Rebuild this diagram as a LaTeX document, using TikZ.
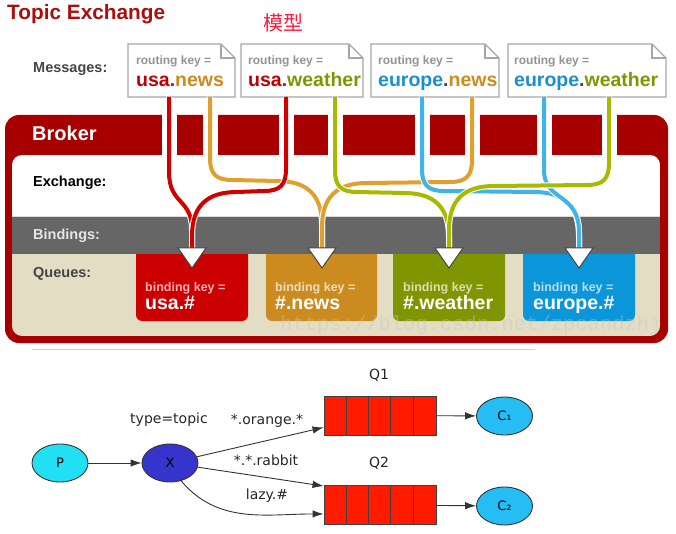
\documentclass[tikz,border=0pt]{standalone}
\usepackage{fontspec}
\setmainfont{Liberation Sans}
\newfontfamily\dejavu{DejaVu Sans}
\newfontfamily\cjk{Noto Sans CJK SC}
\newfontfamily\wmfont{Liberation Mono}
\usetikzlibrary{arrows.meta,shapes.geometric}
\definecolor{brokerred}{HTML}{A80000}
\definecolor{titlered}{HTML}{A8100F}
\definecolor{usared}{HTML}{C00000}
\definecolor{newsor}{HTML}{CC8B1C}
\definecolor{weatherol}{HTML}{7A9800}
\definecolor{europebl}{HTML}{1A8FD0}
\definecolor{dotgray}{HTML}{444444}
\definecolor{lred}{HTML}{D00000}
\definecolor{lorange}{HTML}{E0A030}
\definecolor{lolive}{HTML}{A8BA00}
\definecolor{lblue}{HTML}{40B4E6}
\definecolor{qred}{HTML}{CC0000}
\definecolor{qorange}{HTML}{CB8B1E}
\definecolor{qolive}{HTML}{809600}
\definecolor{qblue}{HTML}{0A96D8}
\definecolor{bandgray}{HTML}{666666}
\definecolor{beige}{HTML}{E3DDC3}
\definecolor{pcyan}{HTML}{22E0F4}
\definecolor{xblue}{HTML}{3535CC}
\definecolor{cblue}{HTML}{26BDF5}
\definecolor{qqred}{HTML}{FF1A00}
\definecolor{cjkred}{HTML}{FF1A40}
\tikzset{
  lbl/.style={anchor=base west, inner sep=0pt, font=\bfseries\fontsize{14.5}{16}\selectfont},
  rkey/.style={anchor=base west, inner sep=0pt, text=gray!85!white, font=\bfseries\fontsize{12}{14}\selectfont},
  mkey/.style={anchor=base west, inner sep=0pt, font=\bfseries\fontsize{19.5}{22}\selectfont},
  bkey/.style={anchor=base west, inner sep=0pt, text=white, text opacity=0.7, font=\bfseries\fontsize{12.5}{14}\selectfont},
  qkey/.style={anchor=base west, inner sep=0pt, text=white, font=\bfseries\fontsize{19.5}{22}\selectfont},
  msgframe/.style={draw=gray!70, line width=1.2pt, fill=white},
  wire/.style={line width=4pt, preaction={draw=white, line width=6pt}},
  tri/.style={fill=white, draw=dotgray, line width=1pt, line join=miter},
  ell/.style={ellipse, draw=black!80, line width=0.9pt, minimum width=56pt, minimum height=38pt, inner sep=0pt, font=\dejavu\fontsize{13}{15}\selectfont},
  qq/.style={rectangle, draw=black!75, line width=0.9pt, fill=qqred, minimum width=112pt, minimum height=39pt, inner sep=0pt},
  elabel/.style={inner sep=0pt, text=black!85, font=\dejavu\fontsize{14}{16}\selectfont},
  arr/.style={draw=black!80, line width=0.9pt, -{Latex[length=11pt,width=7.5pt]}}
}
\newcommand\msgbox[2]{%
  \draw[msgframe] (#1,44) -- ({#2-14},44) -- (#2,58) -- (#2,97) -- (#1,97) -- cycle;
  \draw[draw=gray!70, line width=1.2pt] ({#2-14},44) -- ({#2-14},58) -- (#2,58);
}
% long connector: color, x0, x1, yh, sign
\newcommand\longwire[5]{%
  \draw[#1, wire] (#2,97) -- (#2,{#4-22}) .. controls (#2,{#4-6}) and ({#2+#5*6},#4) .. ({#2+#5*22},#4)
    -- ({#3-#5*45},{#4+1}) .. controls ({#3-#5*15},{#4+1}) and (#3,{#4+15}) .. (#3,{#4+45}) -- (#3,248);
}
\begin{document}
\begin{tikzpicture}[x=1pt,y=-1pt]
\useasboundingbox (0,0) rectangle (676,534);
% title
\node[anchor=base west, inner sep=0pt, text=titlered, font=\bfseries\fontsize{20.8}{24}\selectfont] (title) at (7,20) {Topic Exchange};
\node[inner sep=0pt, text=cjkred, font=\cjk\fontsize{20}{24}\selectfont] (model) at (283.5,23) {模型};
\node[lbl, text=dotgray] (msglbl) at (33,73) {Messages:};
% broker frame
\fill[brokerred, rounded corners=14] (5,115) rectangle (668,343);
\foreach \a/\b in {162/177,203/218,279/294,328/343,415/430,465/480,537/552,602/617}
  \fill[white] (\a,114) rectangle (\b,156);
\begin{scope}
  \clip[rounded corners=10] (12,155) rectangle (660,336);
  \fill[white] (12,155) rectangle (660,217);
  \fill[beige] (12,217) rectangle (660,336);
  \fill[qred, rounded corners=6] (136,240) rectangle (248,321);
  \fill[qorange, rounded corners=6] (266,240) rectangle (377,321);
  \fill[qolive, rounded corners=6] (393,240) rectangle (505,321);
  \fill[qblue, rounded corners=6] (523,240) rectangle (635,321);
  \fill[bandgray] (12,217) rectangle (660,254);
  \draw[gray!30, line width=1pt] (12,217) -- (660,217);
\end{scope}
\node[anchor=base west, inner sep=0pt, text=white, font=\bfseries\fontsize{20}{24}\selectfont] (broker) at (32,141) {Broker};
\node[lbl, text=black] (exlbl) at (33,187) {Exchange:};
\node[lbl, text=gray!20] (bdlbl) at (33,240) {Bindings:};
\node[lbl, text=dotgray] (qlbl) at (33,277) {Queues:};
% queue texts
\node[bkey] (b1) at (145,291) {binding key =};
\node[qkey] (k1) at (145,309) {usa.\#};
\node[bkey] (b2) at (275,291) {binding key =};
\node[qkey] (k2) at (275,309) {\#.news};
\node[bkey] (b3) at (403,291) {binding key =};
\node[qkey] (k3) at (403,309) {\#.weather};
\node[bkey] (b4) at (533,291) {binding key =};
\node[qkey] (k4) at (533,309) {europe.\#};
% message boxes
\msgbox{128}{235}
\msgbox{241}{363}
\msgbox{371}{499}
\msgbox{508}{666}
\node[rkey] (r1) at (136,65) {routing key =};
\node[mkey] (m1) at (136,87) {\textcolor{usared}{usa}\textcolor{dotgray}{.}\textcolor{newsor}{news}};
\node[rkey] (r2) at (248,65) {routing key =};
\node[mkey] (m2) at (248,87) {\textcolor{usared}{usa}\textcolor{dotgray}{.}\textcolor{weatherol}{weather}};
\node[rkey] (r3) at (378,65) {routing key =};
\node[mkey] (m3) at (378,87) {\textcolor{europebl}{europe}\textcolor{dotgray}{.}\textcolor{newsor}{news}};
\node[rkey] (r4) at (514,65) {routing key =};
\node[mkey] (m4) at (514,87) {\textcolor{europebl}{europe}\textcolor{dotgray}{.}\textcolor{weatherol}{weather}};
% connector ends
\coordinate (t1) at (192,248);
\coordinate (t2) at (322,248);
\coordinate (t3) at (449,248);
\coordinate (t4) at (579,248);
% wires
\longwire{lorange}{210}{322}{180}{1}
\longwire{lorange}{472}{322}{182}{-1}
\draw[lred, wire] (169,97) -- (169,172) .. controls (169,205) and (192,198) .. (192,230) -- (t1);
\longwire{lred}{286}{192}{191}{-1}
\longwire{lblue}{422}{579}{191}{1}
\draw[lblue, wire] (544,97) -- (544,170) .. controls (544,202) and (579,192) .. (579,232) -- (t4);
\longwire{lolive}{335}{449}{192}{1}
\longwire{lolive}{609}{449}{185}{-1}
% triangles
\foreach \t in {t1,t2,t3,t4}
  \draw[tri] ([xshift=-14pt]\t) -- ([xshift=14pt]\t) -- ([yshift=-20pt]\t) -- cycle;
% watermark
\node[anchor=base west, inner sep=0pt, text=gray!45, text opacity=0.4, font=\wmfont\fontsize{20.5}{24}\selectfont] (wm) at (280,330) {https://blog.csdn.net/zpcandzhj};
% separator
\draw[gray!35, line width=0.8pt] (32,349) -- (535,349);
% bottom diagram
\node[ell, fill=pcyan] (P) at (60,463) {P};
\node[ell, fill=xblue] (X) at (170,463) {X};
\node[qq] (Q1) at (380,415.5) {};
\node[qq] (Q2) at (380,505) {};
\foreach \q in {Q1,Q2}
  \foreach \i in {1,...,4}
    \draw[black!75, line width=0.9pt] ([xshift=\i*22.4pt]\q.north west) -- ([xshift=\i*22.4pt]\q.south west);
\node[ell, fill=cblue] (C1) at (504.5,416) {C₁};
\node[ell, fill=cblue] (C2) at (504.5,506) {C₂};
\node[elabel] (tt) at (169,420) {type=topic};
\node[elabel] (lq1) at (379,375) {Q1};
\node[elabel] (lq2) at (379,463) {Q2};
\node[elabel] (lo) at (267,421) {*.orange.*};
\node[elabel] (lr) at (266,460) {*.*.rabbit};
\node[elabel] (ll) at (267,496) {lazy.\#};
\draw[arr] (P) -- (X);
\draw[arr] (X) -- ([yshift=8pt]Q1.south west);
\draw[arr] (X) -- ([yshift=-1pt]Q2.north west);
\draw[arr] (X.-58) to[out=-50,in=180] ([yshift=11pt]Q2.south west);
\draw[arr] (Q1) -- (C1);
\draw[arr] (Q2) -- (C2);
\end{tikzpicture}
\end{document}
